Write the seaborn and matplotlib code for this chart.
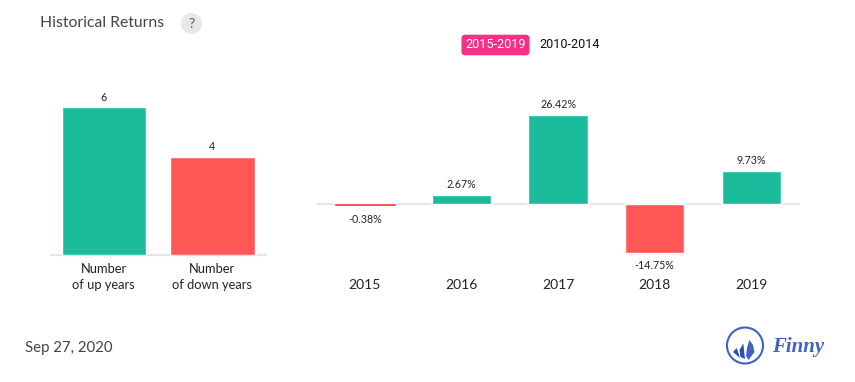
import matplotlib
matplotlib.use("Agg")
import matplotlib.pyplot as plt
import matplotlib.patheffects as pe
from matplotlib.patches import Circle, Polygon
import pandas as pd
import seaborn as sns

# data
count_labels = ["Number\nof up years", "Number\nof down years"]
count_values = [6, 4]
years = ["2015", "2016", "2017", "2018", "2019"]
returns = [-0.38, 2.67, 26.42, -14.75, 9.73]

GREEN = "#1abc9c"
RED = "#ff5656"
W, H = 855, 382

sns.set_theme(style="white")
plt.rcParams["font.family"] = ["Lato", "Open Sans", "DejaVu Sans"]


def box(x0, y0, x1, y1):
    # pixel box (top-left origin) to figure fractions
    return [x0 / W, 1 - y1 / H, (x1 - x0) / W, (y1 - y0) / H]


def draw_bars(ax, df, x, y, colors, width, labels, up_pad):
    sns.barplot(data=df, x=x, y=y, hue=x, palette=colors, width=width,
                legend=False, ax=ax, zorder=3, saturation=1)
    for cont, lab in zip(ax.containers, labels):
        h = cont[0].get_height()
        for bar in cont:
            bar.set_path_effects([pe.withStroke(linewidth=2, foreground="white")])
            # very thin bars would snap away to nothing
            if abs(h) < 1:
                bar.set_edgecolor(bar.get_facecolor())
                bar.set_linewidth(0.7)
        if h > 0:
            pad = up_pad
        else:
            pad = 7 if abs(h) < 1 else 5
        ax.bar_label(cont, labels=[lab], padding=pad, fontsize=7.7, color="#222222")
    ax.set_xlabel("")
    ax.set_ylabel("")
    ax.set_yticks([])
    sns.despine(ax=ax, left=True, bottom=True)
    ax.tick_params(axis="x", length=0, labelcolor="#222222")


fig = plt.figure(figsize=(W / 100, H / 100), dpi=100, facecolor="white")

# left panel, up / down years
ax1 = fig.add_axes(box(49.6, 80, 266.6, 255))
df1 = pd.DataFrame({"label": count_labels, "value": count_values})
draw_bars(ax1, df1, "label", "value", [GREEN, RED], 0.78,
          [str(v) for v in count_values], 3)
ax1.set_xlim(-0.5, 1.5)
ax1.set_ylim(0, 175 / 24.6)
ax1.axhline(0, color="#e6e6e6", lw=1.5, zorder=1, clip_on=False, solid_capstyle="butt")
ax1.tick_params(axis="x", pad=6, labelsize=9.3)
for t in ax1.get_xticklabels():
    t.set_linespacing(1.35)

# right panel, yearly returns
ax2 = fig.add_axes(box(316.6, 79, 799.6, 269))
df2 = pd.DataFrame({"year": years, "ret": returns})
colors2 = [GREEN if r > 0 else RED for r in returns]
draw_bars(ax2, df2, "year", "ret", colors2, 0.615,
          [f"{r:.2f}%" for r in returns], 3.5)
ax2.set_xlim(-0.5, 4.5)
ax2.set_ylim(-65.5 / 3.35, 124.5 / 3.35)
ax2.axhline(0, color="#e6e6e6", lw=1.5, zorder=1, solid_capstyle="butt")
ax2.tick_params(axis="x", pad=7, labelsize=10)

# overlay in pixel coordinates for title, buttons and logo
ov = fig.add_axes([0, 0, 1, 1], zorder=-1)
ov.set_xlim(0, W)
ov.set_ylim(H, 0)
ov.axis("off")
ov.text(40, 23, "Historical Returns", fontsize=11.3, color="#444444", va="center")
ov.add_patch(Circle((191.5, 23.5), 10.5, fc="#e8e8e8", ec="none"))
ov.text(191.5, 23.5, "?", fontsize=10, color="#555555", ha="center", va="center")
ov.text(495.5, 45, "2015-2019", fontsize=9.1, color="white", ha="center", va="center",
        family=["Roboto", "DejaVu Sans"],
        bbox=dict(boxstyle="round,pad=0.3,rounding_size=0.3", fc="#f72f86", ec="none"))
ov.text(570, 45, "2010-2014", fontsize=9.1, color="#111111", ha="center", va="center",
        family=["Roboto", "DejaVu Sans"])
ov.text(25, 348, "Sep 27, 2020", fontsize=10.8, color="#444444", va="center")

# Finny logo
BLUE = "#3f62c4"
ov.add_patch(Circle((745, 345.5), 18, fc="none", ec=BLUE, lw=1.5))
ov.add_patch(Polygon([(736.7, 348), (740, 358), (733, 352)], fc="#2a4fb0", ec="none"))
ov.add_patch(Polygon([(743.3, 343.3), (745, 359), (740.5, 357), (739.5, 350)], fc="#2a4fb0", ec="none"))
ov.add_patch(Polygon([(749.3, 340), (753, 345), (754.5, 352), (748.5, 360), (746, 356), (747, 348)],
                     fc=BLUE, ec="none"))
ov.text(772, 347, "Finny", fontsize=15, color=BLUE, va="center", style="italic",
        weight="bold", family=["Liberation Serif", "DejaVu Serif"])

fig.savefig("out.png", dpi=100)
